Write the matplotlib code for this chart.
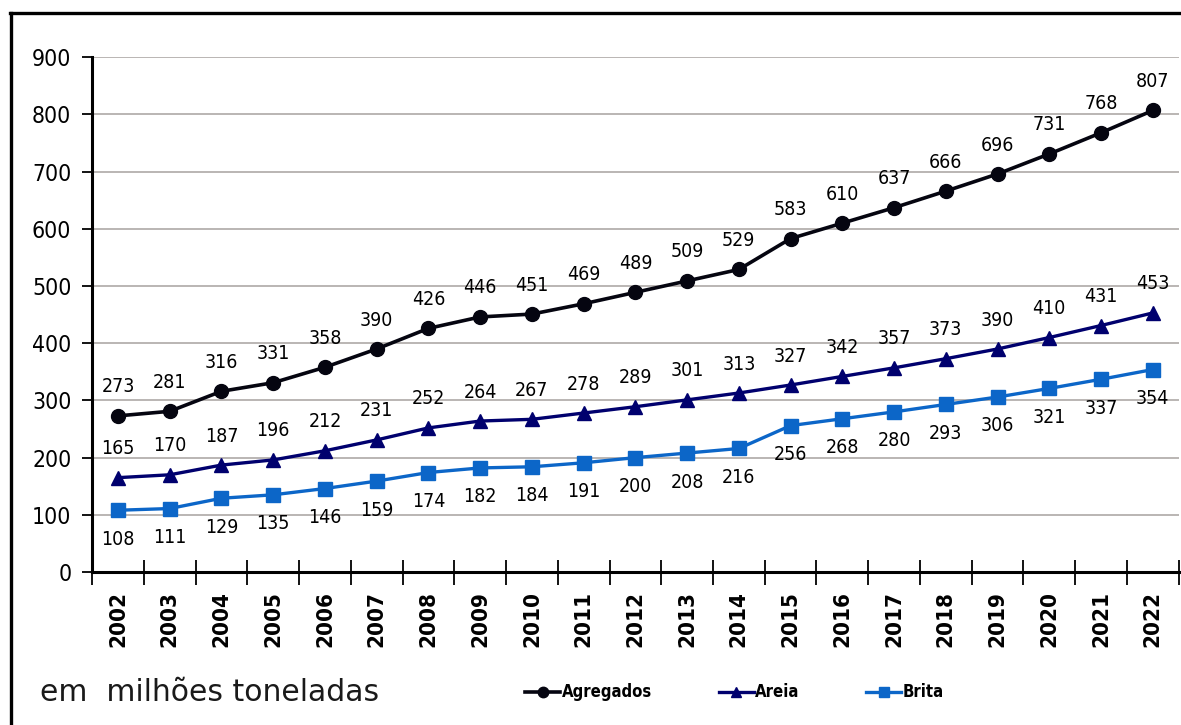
import numpy as np
import matplotlib.pyplot as plt
from matplotlib.lines import Line2D

# production of aggregates, millions of tonnes
anos = [str(a) for a in range(2002, 2023)]
agregados = [273, 281, 316, 331, 358, 390, 426, 446, 451, 469, 489,
             509, 529, 583, 610, 637, 666, 696, 731, 768, 807]
areia = [165, 170, 187, 196, 212, 231, 252, 264, 267, 278, 289,
         301, 313, 327, 342, 357, 373, 390, 410, 431, 453]
brita = [108, 111, 129, 135, 146, 159, 174, 182, 184, 191, 200,
         208, 216, 256, 268, 280, 293, 306, 321, 337, 354]

plt.rcParams['font.family'] = ['DejaVu Sans']
cond = dict(fontstretch='condensed')

fig = plt.figure(figsize=(11.81, 7.25), dpi=100)
ax = fig.add_axes([0.078, 0.211, 0.92, 0.710])

x = np.arange(len(anos))
l1, = ax.plot(x, agregados, color='#050510', lw=2.6, marker='o', ms=10,
              label='Agregados', zorder=4)
l2, = ax.plot(x, areia, color='#00006e', lw=2.4, marker='^', ms=10,
              label='Areia', zorder=4)
l3, = ax.plot(x, brita, color='#0c66c8', lw=2.4, marker='s', ms=10,
              label='Brita', zorder=4)

# value labels: above for Agregados and Areia, below for Brita
for i in x:
    ax.annotate(str(agregados[i]), (i, agregados[i]), xytext=(0, 14),
                textcoords='offset points', ha='center', va='bottom',
                fontsize=14, **cond)
    ax.annotate(str(areia[i]), (i, areia[i]), xytext=(0, 14),
                textcoords='offset points', ha='center', va='bottom',
                fontsize=14, **cond)
    ax.annotate(str(brita[i]), (i, brita[i]), xytext=(0, -14),
                textcoords='offset points', ha='center', va='top',
                fontsize=14, **cond)

ax.set_xlim(-0.5, len(anos) - 0.5)
ax.set_ylim(0, 900)
ax.set_yticks(range(0, 901, 100))
ax.yaxis.grid(True, color='#b4b0ae', lw=1.3)
ax.set_axisbelow(True)

ax.set_xticks(x)
ax.set_xticklabels(anos, rotation=90, fontsize=16, fontweight='bold', **cond)
ax.set_xticks(np.arange(-0.5, len(anos)), minor=True)
ax.tick_params(axis='x', which='major', length=0, pad=14)
ax.tick_params(axis='x', which='minor', direction='inout', length=18,
               width=1.3)
ax.tick_params(axis='y', length=7, width=1.3, labelsize=16.5, pad=8)
for t in ax.get_yticklabels():
    t.set_fontstretch('condensed')

for s in ['top', 'right']:
    ax.spines[s].set_visible(False)
ax.spines['left'].set_linewidth(2.2)
ax.spines['bottom'].set_linewidth(2.2)

fig.text(0.034, 0.045, 'em  milhões toneladas', fontsize=21.5,
         va='center', ha='left', color='#1a1a1a')

fig.legend(handles=[l1, l2, l3], loc='center', ncol=3,
           bbox_to_anchor=(0.622, 0.045), frameon=False,
           prop=dict(size=12, weight='bold', stretch='condensed'),
           handlelength=2.1, handletextpad=0.1, columnspacing=4.0,
           markerscale=0.75)

# outer frame on the left and top
fig.add_artist(Line2D([0.0095, 0.0095], [0, 0.982], color='black', lw=2.4,
                      transform=fig.transFigure))
fig.add_artist(Line2D([0.0085, 1.0], [0.982, 0.982], color='black', lw=2.4,
                      transform=fig.transFigure))

fig.savefig('out.png', dpi=100)
